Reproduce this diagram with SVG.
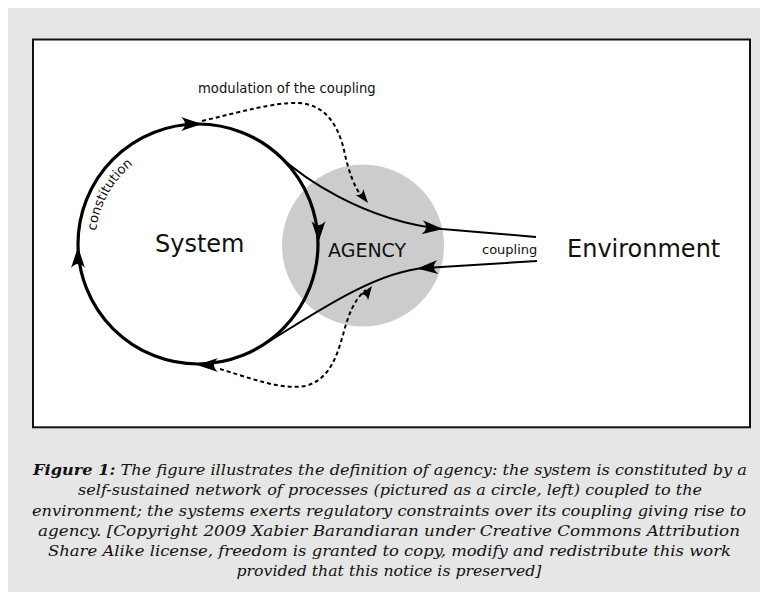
<svg xmlns="http://www.w3.org/2000/svg" xmlns:xlink="http://www.w3.org/1999/xlink" width="760" height="592" viewBox="0 0 760 592">
<style>
.sans{font-family:"DejaVu Sans","Liberation Sans",sans-serif;fill:#111}
.cap{font-family:"DejaVu Serif","Liberation Serif",serif;font-style:italic;font-size:15.5px;fill:#111}
.thick{fill:none;stroke:#000;stroke-width:3.2}
.line{fill:none;stroke:#000;stroke-width:2}
.dash{fill:none;stroke:#000;stroke-width:2;stroke-dasharray:4 3}
.ah{fill:#000}
</style>
<defs>
<path id="ahL" d="M0,0 L-21,-7 Q-13,0 -21,7 Z"/>
<path id="ahS" d="M0,0 L-14,-5 Q-9,0 -14,5 Z"/>
<path id="constPath" d="M 96,231 A 103 103 0 0 1 170,145"/>
</defs>
<rect x="8" y="8" width="752" height="584" fill="#e6e6e6"/>
<rect x="33" y="39.5" width="717" height="387.8" fill="#fff" stroke="#111" stroke-width="2"/>

<g id="agency">
<circle cx="363" cy="245.5" r="81" fill="#cccccc"/>
<text class="sans" x="328" y="257" font-size="19">AGENCY</text>
</g>

<g id="system">
<circle cx="198" cy="244" r="120" class="thick"/>
<text class="sans" x="155" y="252" font-size="24">System</text>
<text class="sans" font-size="13.2"><textPath xlink:href="#constPath">constitution</textPath></text>
</g>

<g id="environment">
<text class="sans" x="567" y="257" font-size="24">Environment</text>
</g>

<g id="connectors">
<path class="line" d="M278,155 C300,175 360,220 442,229 L536,237"/>
<path class="line" d="M537,261 L425,268 C370,272 301,323 258,348"/>
<path class="dash" d="M202,121 C240,112 275,102 298,103 C325,104 338,125 344,150 C348,170 355,190 364,199"/>
<path class="dash" d="M220,369 C250,378 280,390 305,386 C330,380 337,355 343,335 C348,315 355,298 366,290"/>
<g class="ah">
<use xlink:href="#ahL" transform="translate(202,124) rotate(0)"/>
<use xlink:href="#ahL" transform="translate(318.5,242) rotate(90)"/>
<use xlink:href="#ahL" transform="translate(197,365) rotate(180)"/>
<use xlink:href="#ahL" transform="translate(78,247) rotate(-90)"/>
<use xlink:href="#ahL" transform="translate(443,229) rotate(5)"/>
<use xlink:href="#ahL" transform="translate(417,268.5) rotate(176)"/>
<use xlink:href="#ahS" transform="translate(368,203) rotate(52)"/>
<use xlink:href="#ahS" transform="translate(372,286) rotate(-55)"/>
</g>
<text class="sans" x="198" y="93" font-size="13.2">modulation of the coupling</text>
<text class="sans" x="482" y="254" font-size="13">coupling</text>
</g>

<g id="caption">
<text class="cap" x="390" y="475" text-anchor="middle" textLength="714" lengthAdjust="spacingAndGlyphs"><tspan font-weight="bold">Figure 1:</tspan> The figure illustrates the definition of agency: the system is constituted by a</text>
<text class="cap" x="390" y="495" text-anchor="middle" textLength="624" lengthAdjust="spacingAndGlyphs">self-sustained network of processes (pictured as a circle, left) coupled to the</text>
<text class="cap" x="389" y="515.5" text-anchor="middle" textLength="714" lengthAdjust="spacingAndGlyphs">environment; the systems exerts regulatory constraints over its coupling giving rise to</text>
<text class="cap" x="389" y="535.5" text-anchor="middle" textLength="702" lengthAdjust="spacingAndGlyphs">agency. [Copyright 2009 Xabier Barandiaran under Creative Commons Attribution</text>
<text class="cap" x="389.5" y="556" text-anchor="middle" textLength="683" lengthAdjust="spacingAndGlyphs">Share Alike license, freedom is granted to copy, modify and redistribute this work</text>
<text class="cap" x="389" y="576" text-anchor="middle" textLength="305" lengthAdjust="spacingAndGlyphs">provided that this notice is preserved]</text>
</g>
</svg>
